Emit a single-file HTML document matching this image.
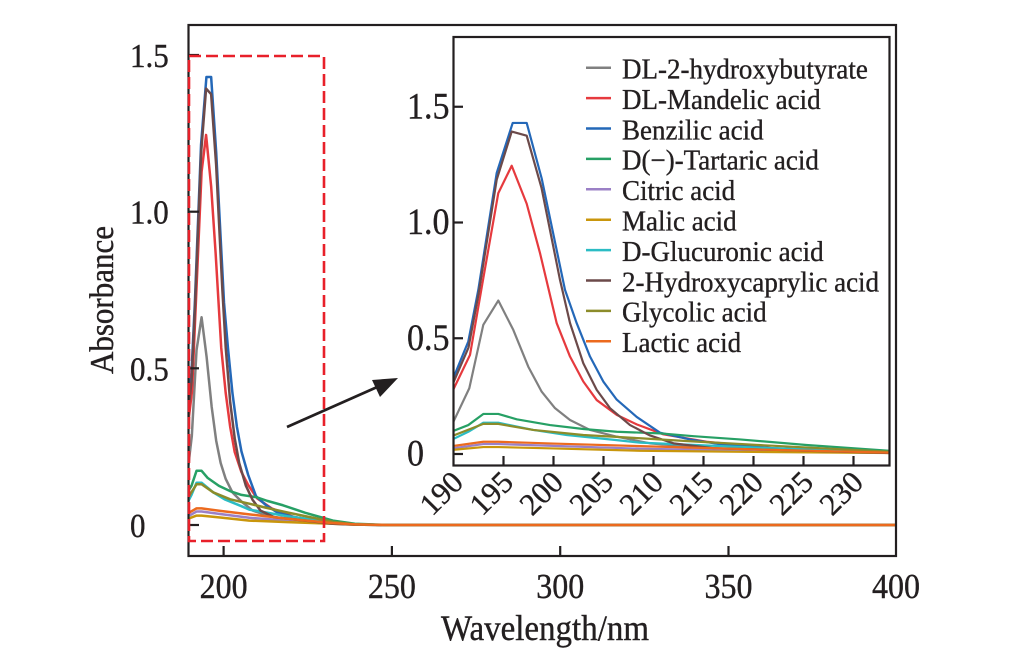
<!DOCTYPE html>
<html><head><meta charset="utf-8"><style>
html,body{margin:0;padding:0;background:#fff;}
svg{display:block;}
text{font-family:"Liberation Serif",serif;fill:#231f20;stroke:#231f20;stroke-width:0.35;}
</style></head><body>
<svg width="1020" height="649" viewBox="0 0 1020 649" xmlns="http://www.w3.org/2000/svg">
<defs>
<clipPath id="cm"><rect x="189" y="26" width="706" height="529"/></clipPath>
<clipPath id="ci"><rect x="454" y="38" width="435" height="427"/></clipPath>
<g id="series" fill="none" stroke-linejoin="round">
<path vector-effect="non-scaling-stroke" stroke="#808080" d="M0,0.14 L1.58,0.284 2.98,0.558 4.48,0.663 5.98,0.536 7.48,0.377 8.82,0.269 10.15,0.198 11.65,0.147 13.65,0.104 16.32,0.075 19.65,0.046 23.65,0.032 30,0.015 43.5,0.005 50,0.002 60,0 215,0"/>
<path vector-effect="non-scaling-stroke" stroke="#e63a3e" d="M0,0.28 L1.65,0.428 2.95,0.752 4.48,1.127 5.82,1.245 7.32,1.081 8.65,0.868 10.32,0.565 11.65,0.421 12.98,0.313 14.32,0.233 16.32,0.169 18.32,0.128 20.98,0.085 25.3,0.053 32,0.025 43.5,0.006 50,0.002 60,0 215,0"/>
<path vector-effect="non-scaling-stroke" stroke="#2468b8" d="M0,0.33 L1.48,0.486 2.48,0.709 4.32,1.214 5.92,1.43 7.32,1.43 8.82,1.19 11.15,0.709 12.32,0.565 13.65,0.421 14.98,0.313 16.32,0.235 18.32,0.16 20.65,0.092 23.65,0.063 27,0.04 32,0.025 43.5,0.006 50,0.002 60,0 215,0"/>
<path vector-effect="non-scaling-stroke" stroke="#27a065" d="M0,0.10 L1.48,0.125 2.98,0.173 4.48,0.173 6.32,0.150 9.65,0.125 12.98,0.108 16.32,0.096 20.65,0.089 24,0.077 28.65,0.063 35.3,0.039 43.5,0.014 50,0.004 60,0 215,0"/>
<path vector-effect="non-scaling-stroke" stroke="#9b80c6" d="M0,0.025 L2.98,0.043 4.48,0.043 10,0.035 18.65,0.023 30,0.014 43.5,0.005 50,0.001 60,0 215,0"/>
<path vector-effect="non-scaling-stroke" stroke="#c9960c" d="M0,0.018 L2.98,0.03 4.48,0.03 10,0.024 18.65,0.014 30,0.009 43.5,0.004 50,0.001 60,0 215,0"/>
<path vector-effect="non-scaling-stroke" stroke="#2bbcc4" d="M0,0.065 L1.48,0.096 2.98,0.135 4.48,0.135 7.98,0.104 11.32,0.082 16.32,0.06 18.65,0.049 23.65,0.04 30,0.028 43.5,0.008 50,0.002 60,0 215,0"/>
<path vector-effect="non-scaling-stroke" stroke="#6c4a4a" d="M0,0.31 L1.5,0.46 2.5,0.69 4.32,1.185 5.82,1.393 7.32,1.375 8.8,1.15 10.65,0.752 11.65,0.566 12.98,0.392 14.32,0.277 15.65,0.198 17.65,0.125 19.65,0.08 22,0.046 26,0.025 43.5,0.004 50,0.001 60,0 215,0"/>
<path vector-effect="non-scaling-stroke" stroke="#8c8c2a" d="M0,0.08 L2.98,0.13 4.48,0.13 7.98,0.104 12.98,0.082 18.65,0.068 23.65,0.055 30,0.04 43.5,0.01 50,0.002 60,0 215,0"/>
<path vector-effect="non-scaling-stroke" stroke="#ec6a1e" d="M0,0.035 L2.98,0.053 4.48,0.053 10,0.045 18.65,0.034 30,0.02 43.5,0.006 50,0.002 60,0 215,0"/>
</g>
</defs>

<!-- main plot curves -->
<g clip-path="url(#cm)" stroke-width="2.5">
<use href="#series" transform="translate(186.5,525) scale(3.366,-313.3)"/>
</g>

<!-- main frame -->
<rect x="188.5" y="25" width="707.5" height="531" fill="none" stroke="#231f20" stroke-width="2.2"/>
<g stroke="#231f20" stroke-width="2.2">
<line x1="188.5" y1="525" x2="199" y2="525"/>
<line x1="188.5" y1="368.3" x2="199" y2="368.3"/>
<line x1="188.5" y1="211.7" x2="199" y2="211.7"/>
<line x1="188.5" y1="55" x2="199" y2="55"/>
<line x1="223.6" y1="556" x2="223.6" y2="546"/>
<line x1="391.9" y1="556" x2="391.9" y2="546"/>
<line x1="560.2" y1="556" x2="560.2" y2="546"/>
<line x1="728.5" y1="556" x2="728.5" y2="546"/>
</g>
<g font-size="31">
<text transform="translate(130,537) scale(1,1.1)">0</text>
<text transform="translate(130,380.3) scale(1,1.1)">0.5</text>
<text transform="translate(130,223.7) scale(1,1.1)">1.0</text>
<text transform="translate(130,67) scale(1,1.1)">1.5</text>
</g>
<g font-size="32" text-anchor="middle">
<text transform="translate(223.6,598) scale(1,1.08)">200</text>
<text transform="translate(391.9,598) scale(1,1.08)">250</text>
<text transform="translate(560.2,598) scale(1,1.08)">300</text>
<text transform="translate(728.5,598) scale(1,1.08)">350</text>
<text transform="translate(896,598) scale(1,1.08)">400</text>
</g>
<text transform="translate(545,640) scale(1,1.08)" font-size="33" text-anchor="middle">Wavelength/nm</text>
<text transform="translate(113,300) rotate(-90) scale(1,1.08)" font-size="31" text-anchor="middle">Absorbance</text>

<!-- red dashed box -->
<rect x="189" y="56" width="135" height="485" fill="none" stroke="#e8202a" stroke-width="2.6" stroke-dasharray="12,5"/>

<!-- arrow -->
<line x1="287" y1="427" x2="384" y2="384" stroke="#231f20" stroke-width="2.7"/>
<polygon points="398,378 372,380 380,397" fill="#231f20"/>

<!-- inset -->
<rect x="453.5" y="37" width="436" height="428.5" fill="#fff" stroke="none"/>
<g clip-path="url(#ci)" stroke-width="2.2">
<use href="#series" transform="translate(453.5,454) scale(10,-231.5)"/>
</g>
<rect x="453.5" y="37" width="436" height="428.5" fill="none" stroke="#231f20" stroke-width="2.2"/>
<g stroke="#231f20" stroke-width="2.2">
<line x1="453.5" y1="454" x2="463" y2="454"/>
<line x1="453.5" y1="338.25" x2="463" y2="338.25"/>
<line x1="453.5" y1="222.5" x2="463" y2="222.5"/>
<line x1="453.5" y1="106.75" x2="463" y2="106.75"/>
<line x1="503.5" y1="465.5" x2="503.5" y2="456"/>
<line x1="553.5" y1="465.5" x2="553.5" y2="456"/>
<line x1="603.5" y1="465.5" x2="603.5" y2="456"/>
<line x1="653.5" y1="465.5" x2="653.5" y2="456"/>
<line x1="703.5" y1="465.5" x2="703.5" y2="456"/>
<line x1="753.5" y1="465.5" x2="753.5" y2="456"/>
<line x1="803.5" y1="465.5" x2="803.5" y2="456"/>
<line x1="853.5" y1="465.5" x2="853.5" y2="456"/>
</g>
<g font-size="34">
<text transform="translate(407,465.5) scale(1,1.08)">0</text>
<text transform="translate(407,349.8) scale(1,1.08)">0.5</text>
<text transform="translate(407,234) scale(1,1.08)">1.0</text>
<text transform="translate(407,118.3) scale(1,1.08)">1.5</text>
</g>
<g font-size="31" text-anchor="end">
<text transform="translate(465,484) rotate(-45)">190</text>
<text transform="translate(515,484) rotate(-45)">195</text>
<text transform="translate(565,484) rotate(-45)">200</text>
<text transform="translate(615,484) rotate(-45)">205</text>
<text transform="translate(665,484) rotate(-45)">210</text>
<text transform="translate(715,484) rotate(-45)">215</text>
<text transform="translate(765,484) rotate(-45)">220</text>
<text transform="translate(815,484) rotate(-45)">225</text>
<text transform="translate(865,484) rotate(-45)">230</text>
</g>

<!-- legend -->
<g stroke-width="2.5">
<line x1="586" y1="67.7" x2="611" y2="67.7" stroke="#808080"/>
<line x1="586" y1="98.1" x2="611" y2="98.1" stroke="#e63a3e"/>
<line x1="586" y1="128.5" x2="611" y2="128.5" stroke="#2468b8"/>
<line x1="586" y1="158.9" x2="611" y2="158.9" stroke="#27a065"/>
<line x1="586" y1="189.3" x2="611" y2="189.3" stroke="#9b80c6"/>
<line x1="586" y1="219.7" x2="611" y2="219.7" stroke="#c9960c"/>
<line x1="586" y1="250.1" x2="611" y2="250.1" stroke="#2bbcc4"/>
<line x1="586" y1="280.5" x2="611" y2="280.5" stroke="#6c4a4a"/>
<line x1="586" y1="310.9" x2="611" y2="310.9" stroke="#8c8c2a"/>
<line x1="586" y1="341.3" x2="611" y2="341.3" stroke="#ec6a1e"/>
</g>
<g font-size="27">
<text transform="translate(622,78.5) scale(1,1.05)">DL-2-hydroxybutyrate</text>
<text transform="translate(622,108.9) scale(1,1.05)">DL-Mandelic acid</text>
<text transform="translate(622,139.3) scale(1,1.05)">Benzilic acid</text>
<text transform="translate(622,169.7) scale(1,1.05)">D(−)-Tartaric acid</text>
<text transform="translate(622,200.1) scale(1,1.05)">Citric acid</text>
<text transform="translate(622,230.5) scale(1,1.05)">Malic acid</text>
<text transform="translate(622,260.9) scale(1,1.05)">D-Glucuronic acid</text>
<text transform="translate(622,291.3) scale(1,1.05)">2-Hydroxycaprylic acid</text>
<text transform="translate(622,321.7) scale(1,1.05)">Glycolic acid</text>
<text transform="translate(622,352.1) scale(1,1.05)">Lactic acid</text>
</g>
</svg>
</body></html>
